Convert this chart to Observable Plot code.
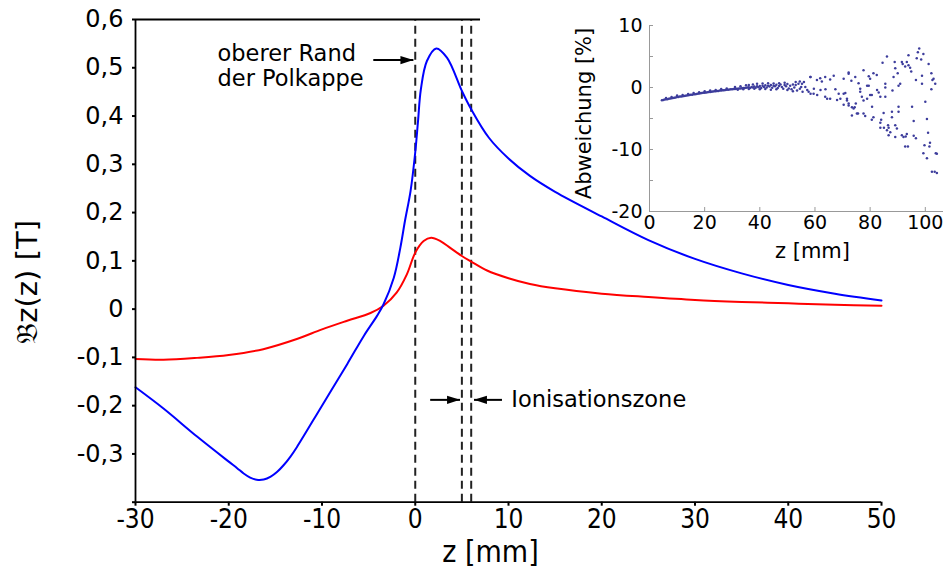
<!DOCTYPE html>
<html><head><meta charset="utf-8">
<script src="https://cdn.jsdelivr.net/npm/d3@7"></script>
<script src="https://cdn.jsdelivr.net/npm/@observablehq/plot@0.6"></script>
<style>
body{margin:0;background:#fff;}
#wrap{position:relative;width:946px;height:568px;font-family:"DejaVu Sans",sans-serif;}
#inset{position:absolute;left:560px;top:0;}
</style></head><body>
<div id="wrap"><div id="main"></div><div id="inset"></div></div>
<script>
// ---------- main chart data ----------
const zBlue = [-30, -27, -23.4, -20, -19.1, -18.4, -17.7, -17, -16.25, -15.5, -14.8, -14.1, -13.4, -12.7, -10, -7.3, -5.5, -4.1, -3.4, -2.3, -1.6, -1.1, -0.5, 0, 0.3, 0.6, 1.25, 2.25, 3.4, 5, 6, 7.9, 10, 12.3, 15, 20, 25, 30, 35, 40, 45, 50];
const bBlue = [-0.162, -0.206, -0.264, -0.316, -0.3295, -0.3405, -0.3490, -0.3535, -0.3530, -0.347, -0.337, -0.323, -0.306, -0.286, -0.200, -0.114, -0.055, -0.014, 0.010, 0.065, 0.127, 0.183, 0.245, 0.325, 0.39, 0.455, 0.514, 0.540, 0.521, 0.452, 0.414, 0.355, 0.312, 0.276, 0.243, 0.192, 0.143, 0.104, 0.074, 0.050, 0.032, 0.018];
const zRed = [-30, -27, -23.4, -20, -16.3, -12.7, -10, -7.3, -4.8, -3.4, -2, -0.9, 0, 0.9, 1.7, 2.7, 3.75, 5, 6, 7.7, 10, 12.3, 15, 20, 25, 30, 35, 40, 45, 50];
const bRed = [-0.1035, -0.105, -0.101, -0.095, -0.083, -0.062, -0.042, -0.024, -0.008, 0.007, 0.034, 0.072, 0.117, 0.141, 0.148, 0.141, 0.127, 0.110, 0.0985, 0.080, 0.064, 0.052, 0.043, 0.032, 0.025, 0.019, 0.015, 0.012, 0.009, 0.007];
const markerZ = [0, 5, 6];                 // dashed vertical lines
const xTicks = [-30, -20, -10, 0, 10, 20, 30, 40, 50];
const yTicks = [-0.4, -0.3, -0.2, -0.1, 0, 0.1, 0.2, 0.3, 0.4, 0.5, 0.6];
const xDomain = [-30, 50];
const yDomain = [-0.4, 0.6];
const yLabel = "\u{1D505}z(z) [T]";
const xLabel = "z [mm]";
const noteText = ["oberer Rand\nder Polkappe", "Ionisationszone"];
const noteZ = [-21.2, 10.3];
const noteB = [0.553, -0.188];
const noteLineAnchor = ["top", "middle"];
// arrows: [z from, z tip, B]
const arrows = [[-4.5, -0.2, 0.516], [1.6, 4.8, -0.188], [9.3, 6.3, -0.188]];

// ---------- inset data ----------
const insetXTicks = [0, 20, 40, 60, 80, 100];
const insetYTicks = [-20, -10, 0, 10];
const insetYMinor = [-20, -15, -10, -5, 0, 5, 10];
const devZ = [4.5,5,5.5,6,6.5,7,7.5,8,8.5,9,9.5,10,10.5,11,11.5,12,12.5,13,13.5,14,14.5,15,15.5,16,16.5,17,17.5,18,18.5,19,19.5,20,20.5,21,21.5,22,22.5,23,23.5,24,24.5,25,25.5,26,26.5,27,27.5,28,28.5,29,29.5,30,30.5,31,31.5,32,32.5,33,33.5,34,34.5,35,35.5,36,36.5,37,37.5,38,38.5,39,39.5,40,40.5,41,41.5,42,42.5,43,43.5,44,44.5,45,45.5,46,46.5,47,47.5,48,48.5,49,49.5,50,50.5,51,51.5,52,52.5,53,53.5,54,54.5,55,
 31,33,35,36,37.5,39,41,43,45,47,49,32,34,36,38,40,42,44,46,50,52,53,55.5,54.5,
 6,8,10,12,14,16,18,20,22,24,26,28,
 55.3,56.5,57.7,58.3,59.5,59.6,60.7,61.9,62.5,62,63.7,63.8,63.7,65.5,65.5,66.8,67.4,68.6,69.2,70.4,72.2,71.6,72.2,70.4,72.2,74.6,73.2,77.6,75.8,76.4,76.4,71,71.6,72.2,73.4,74.4,75.6,74.8,77,77.6,78.9,78.9,79.5,80,80.6,79.5,80,81.2,82.4,82.5,83.1,83.7,85.5,80.7,77.6,78.2,81.2,80.6,84,84.9,83.7,85,83.7,86.5,86.7,87.3,86.7,89.1,89.7,87.9,90.3,87.9,86.1,89.1,91.5,92.1,93.3,92.9,92.7,93.7,90.3,84.5,86.1,88.9,89.1,90,88.5,90.9,90.3,88.1,85.5,85.5,91.5,91.8,93.3,93.9,93.9,94.5,94.9,92.7,95.2,95.8,96.6,95.8,96.6,96.9,97.3,97.8,98.5,99.3,98.8,98.8,100,100.6,99.7,99.3,100.6,101.2,102.2,102.6,102.2,103,103.6,101,101.7,101.5,103.8,103.4,104.2,102.4,104.2,68,70.4,74,73.4,75.2,64.4,60.8,58.4,57.2,56,58.4];
const devV = [-2.05,-2.0,-1.95,-1.9,-1.88,-1.82,-1.78,-1.72,-1.7,-1.64,-1.6,-1.55,-1.52,-1.47,-1.45,-1.4,-1.36,-1.33,-1.28,-1.25,-1.22,-1.18,-1.15,-1.1,-1.08,-1.03,-1.0,-0.97,-0.93,-0.9,-0.86,-0.84,-0.8,-0.78,-0.74,-0.72,-0.68,-0.66,-0.62,-0.6,-0.57,-0.55,-0.5,-0.5,-0.45,-0.44,-0.4,-0.38,-0.35,-0.34,-0.3,-0.3,-0.25,-0.24,-0.22,-0.2,-0.16,-0.15,-0.12,-0.1,-0.08,-0.05,0.0,0.05,-0.1,0.1,0.0,0.15,-0.05,0.2,0.05,0.25,-0.1,0.3,0.1,0.35,0.0,0.3,0.15,0.4,-0.05,0.3,0.2,0.45,-0.1,0.25,0.5,0.1,-0.2,0.4,0.2,0.55,-0.15,0.3,-0.3,0.5,0.0,0.4,-0.5,0.6,-0.2,0.1,
 0.1,0.2,0.35,0.4,0.5,0.6,0.65,0.7,0.65,0.7,0.75,-0.35,-0.3,-0.25,-0.2,-0.3,-0.25,-0.35,-0.3,-0.4,-0.6,0.9,-0.7,0.95,
 -1.7,-1.55,-1.3,-1.2,-1.05,-0.9,-0.75,-0.6,-0.5,-0.4,-0.25,-0.15,
 0.6,0.1,-0.7,1.7,-1.0,-0.2,1.2,1.5,0.96,-0.4,1.7,-0.3,-1.5,-1.8,1.3,1.9,-0.3,-1.0,-1.8,1.4,2.2,-2.1,-2.9,-1.0,2.4,1.7,1.1,2.8,0.7,-0.2,-0.7,-0.9,-1.8,-2.6,-3.2,-3.2,-4.2,-2.6,-1.5,-2.1,-1.8,0.3,0.3,-1.2,-1.2,1.8,1.4,2.3,2.0,-0.4,-0.8,-1.5,-1.5,-3.1,-4.2,-4.6,-4.8,-5.2,-5.2,-4.1,-5.7,-6.5,-6.5,-6.1,-6.5,-7.2,-7.7,-6.1,-6.6,-3.9,-3.9,-4.8,-6.9,-8.0,-7.7,-8.0,-7.5,-7.9,-9.5,-9.5,-3.1,4.0,5.0,4.1,3.1,2.3,1.7,0.6,0.3,-0.5,0,0.6,4.1,3.8,4.1,5.2,3.6,3.2,2.6,3.4,-3.1,-5.4,-8.2,-7.8,1.2,4.7,5.7,6.3,4.5,5.4,1.9,0.6,-2.3,-5.1,-9.3,-10.6,-11.4,3.8,2.3,1.2,-0.3,1.4,0.6,-7.3,-8.9,-9.5,-10.6,-13.6,-13.8,-13.6,-10.7,-2.0,-2.8,-3.4,-4.5,-4.2,-1.8,-1.2,-1.0,-0.4,0.9,1.7];
const insetXDomain = [0, 106.6];
const insetYDomain = [-20, 10];
const insetXLabel = "z [mm]";
const insetYLabel = "Abweichung [%]";

// ---------- build ----------
const blueData = zBlue.map((z, i) => ({z, b: bBlue[i]}));
const redData = zRed.map((z, i) => ({z, b: bRed[i]}));
const devData = devZ.map((z, i) => ({z, v: devV[i]}));
const noteData = noteText.map((t, i) => ({t, z: noteZ[i], b: noteB[i], la: noteLineAnchor[i]}));
const arrowData = arrows.map(([z1, z2, b]) => ({z1, z2, b, dir: z2 > z1 ? 0 : 180}));
const fmtY = d => Math.abs(d + 0.4) < 1e-9 ? "" : Math.abs(d) < 1e-9 ? "0" : (d < 0 ? "-" : "") + Math.abs(d).toFixed(1).replace(".", ",");
const fmtInt = d => (d < 0 ? "-" : "") + Math.abs(d);
// narrow filled arrowhead; tip at the anchor point, pointing right
const headSymbol = {draw(ctx, size) { const l = Math.sqrt(size); ctx.moveTo(0, 0); ctx.lineTo(-l, -l * 0.32); ctx.lineTo(-l, l * 0.32); ctx.closePath(); }};
const FONT = "DejaVu Sans";
const CONDENSED = "DejaVu Sans Condensed, DejaVu Sans";

const main = Plot.plot({
  width: 946, height: 568,
  marginLeft: 135, marginRight: 65, marginTop: 19, marginBottom: 66.3,
  style: {background: "white", fontFamily: FONT, overflow: "visible"},
  x: {domain: xDomain},
  y: {domain: yDomain},
  marks: [
    Plot.ruleX(markerZ, {y1: yDomain[0], y2: yDomain[1], stroke: "#222", strokeWidth: 2, strokeDasharray: "8,5"}),
    Plot.line(redData, {x: "z", y: "b", stroke: "#ff0000", strokeWidth: 2, curve: "catmull-rom"}),
    Plot.line(blueData, {x: "z", y: "b", stroke: "#0000ff", strokeWidth: 2, curve: "catmull-rom"}),
    Plot.ruleX([xDomain[0]], {y1: yDomain[0], y2: yDomain[1], stroke: "black", strokeWidth: 1.8}),
    Plot.ruleY([yDomain[0]], {x1: xDomain[0], x2: xDomain[1], stroke: "black", strokeWidth: 1.8}),
    Plot.ruleY([yDomain[1]], {x1: xDomain[0], x2: 7, stroke: "black", strokeWidth: 1.8}),
    Plot.axisY({ticks: yTicks, tickFormat: fmtY, tickSize: 3, tickPadding: 9, fontSize: 24, strokeWidth: 2, label: null}),
    Plot.axisX({ticks: xTicks, tickFormat: fmtInt, tickSize: 4, tickPadding: 3, fontSize: 26, fontFamily: CONDENSED, strokeWidth: 2, label: null}),
    Plot.text([yLabel], {frameAnchor: "left", rotate: -90, textAnchor: "middle", lineAnchor: "middle", dx: -108, dy: 21, fontSize: 29}),
    Plot.text([xLabel], {frameAnchor: "bottom", textAnchor: "middle", lineAnchor: "middle", dx: -18, dy: 50, fontSize: 30, fontFamily: CONDENSED}),
    Plot.text(noteData.filter(d => d.la === "top"), {x: "z", y: "b", text: "t", textAnchor: "start", lineAnchor: "top", fontSize: 22.5, lineHeight: 1.15}),
    Plot.text(noteData.filter(d => d.la === "middle"), {x: "z", y: "b", text: "t", textAnchor: "start", lineAnchor: "middle", fontSize: 22.5}),
    Plot.link(arrowData, {x1: "z1", x2: "z2", y1: "b", y2: "b", stroke: "black", strokeWidth: 2}),
    Plot.dot(arrowData, {x: "z2", y: "b", symbol: headSymbol, r: 7.3, rotate: "dir", fill: "black", stroke: "none"})
  ]
});
document.getElementById("main").appendChild(main);

const inset = Plot.plot({
  width: 386, height: 265,
  marginLeft: 89, marginRight: 3, marginTop: 25, marginBottom: 54,
  style: {background: "transparent", fontFamily: FONT, overflow: "visible"},
  x: {domain: insetXDomain},
  y: {domain: insetYDomain},
  marks: [
    Plot.ruleX([insetXDomain[0]], {y1: insetYDomain[0], y2: insetYDomain[1], stroke: "#999", strokeWidth: 1}),
    Plot.ruleY([insetYDomain[0]], {x1: insetXDomain[0], x2: insetXDomain[1], stroke: "#999", strokeWidth: 1}),
    Plot.axisY({ticks: insetYMinor, tickSize: 4, dx: 4, tickFormat: () => "", stroke: "#999", label: null}),
    Plot.axisX({ticks: insetXTicks, tickSize: 4, dy: -4, tickFormat: () => "", stroke: "#999", label: null}),
    Plot.axisY({ticks: insetYTicks, tickSize: 0, tickPadding: 7, tickFormat: fmtInt, fontSize: 19, label: null}),
    Plot.axisX({ticks: insetXTicks, tickSize: 0, tickPadding: 4, tickFormat: fmtInt, fontSize: 19, label: null}),
    Plot.dot(devData, {x: "z", y: "v", r: 1.25, fill: "#3d3d9c", stroke: "none"}),
    Plot.text([insetYLabel], {frameAnchor: "left", rotate: -90, textAnchor: "middle", lineAnchor: "middle", dx: -65, dy: -5, fontSize: 21}),
    Plot.text([insetXLabel], {frameAnchor: "bottom", textAnchor: "middle", lineAnchor: "middle", dx: 16, dy: 40, fontSize: 21})
  ]
});
document.getElementById("inset").appendChild(inset);
</script>
</body></html>
